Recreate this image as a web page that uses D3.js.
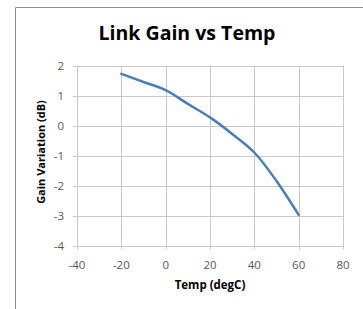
<!DOCTYPE html>
<html><head><meta charset="utf-8">
<script src="https://cdn.jsdelivr.net/npm/d3@7"></script>
<style>body{margin:0;background:#fff}svg{display:block}</style>
</head><body>
<script>
const temps = [-20, -10, 0, 10, 20, 30, 40, 50, 60];
const gains = [1.72, 1.45, 1.18, 0.72, 0.27, -0.28, -0.9, -1.85, -2.98];
const xTicks = [-40, -20, 0, 20, 40, 60, 80];
const yTicks = [-4, -3, -2, -1, 0, 1, 2];
const title = "Link Gain vs Temp";
const xTitle = "Temp (degC)";
const yTitle = "Gain Variation (dB)";

const W = 363, H = 309;
const svg = d3.select("body").append("svg").attr("width", W).attr("height", H);
const font = "'Open Sans', Calibri, sans-serif";

// outer frame (top + left visible)
svg.append("line").attr("x1", 15.5).attr("x2", W).attr("y1", 7.5).attr("y2", 7.5).attr("stroke", "#8c8c8c");
svg.append("line").attr("x1", 15.5).attr("x2", 15.5).attr("y1", 7.5).attr("y2", H).attr("stroke", "#8c8c8c");

const x = d3.scaleLinear().domain([-40, 80]).range([77, 343]);
const y = d3.scaleLinear().domain([-4, 2]).range([245.5, 65.5]);

const g = svg.append("g");
g.selectAll(".vg").data(xTicks).join("line")
  .attr("x1", d => Math.round(x(d)) + 0.5).attr("x2", d => Math.round(x(d)) + 0.5)
  .attr("y1", y(2)).attr("y2", y(-4) + 4).attr("stroke", "#c9c9c9");
g.selectAll(".hg").data(yTicks).join("line")
  .attr("x1", x(-40) - 4).attr("x2", x(80))
  .attr("y1", d => Math.round(y(d)) + 0.5).attr("y2", d => Math.round(y(d)) + 0.5).attr("stroke", "#c9c9c9");

g.selectAll(".xl").data(xTicks).join("text")
  .attr("x", d => x(d)).attr("y", 269).attr("text-anchor", "middle")
  .attr("font-family", font).attr("font-size", 11.5).attr("fill", "#595959").text(d => d);
g.selectAll(".yl").data(yTicks).join("text")
  .attr("x", 64).attr("y", d => y(d) + 4).attr("text-anchor", "end")
  .attr("font-family", font).attr("font-size", 11.5).attr("fill", "#595959").text(d => d);

const line = d3.line().x((d, i) => x(temps[i])).y(d => y(d)).curve(d3.curveCatmullRom.alpha(0.5));
svg.append("path").datum(gains).attr("d", line).attr("fill", "none")
  .attr("stroke", "#4a7ebb").attr("stroke-width", 2.5).attr("stroke-linecap", "round");

svg.append("text").attr("x", 187).attr("y", 40).attr("text-anchor", "middle")
  .attr("font-family", font).attr("font-weight", "bold").attr("font-size", 19.5).attr("fill", "#000").text(title);
svg.append("text").attr("x", 210).attr("y", 289).attr("text-anchor", "middle")
  .attr("font-family", font).attr("font-weight", "bold").attr("font-size", 11.5).attr("fill", "#000").text(xTitle);
svg.append("text").attr("transform", "translate(45,152) rotate(-90)").attr("text-anchor", "middle")
  .attr("font-family", font).attr("font-weight", "bold").attr("font-size", 11).attr("fill", "#000").text(yTitle);
</script>
</body></html>
